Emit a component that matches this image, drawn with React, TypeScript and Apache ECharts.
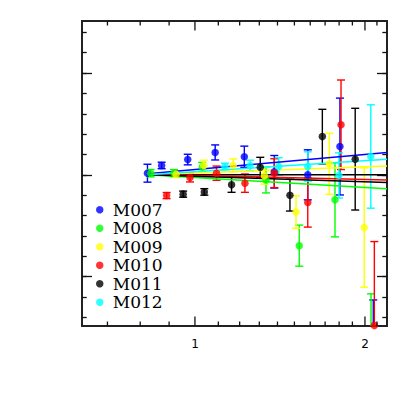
import React, { useEffect, useRef } from "react";
import * as echarts from "echarts";

// ---- data ----
const seriesNames = ["M007", "M008", "M009", "M010", "M011", "M012"];
const seriesColors = ["#0000ff", "#00ff00", "#ffff00", "#ff0000", "#000000", "#00ffff"];

const M007_x = [0.824, 0.873, 0.971, 1.086, 1.223, 1.382, 1.584, 1.806, 2.069];
const M007_y = [1.008, 1.046, 1.075, 1.11, 1.089, 1.015, 1.0, 1.139, 0.22];
const M007_e = [0.044, 0.016, 0.026, 0.037, 0.052, 0.08, 0.123, 0.238, 0.165];

const M008_x = [0.835, 0.918, 1.03, 1.336, 1.53, 1.77, 2.05];
const M008_y = [1.008, 1.008, 1.039, 0.975, 0.652, 0.877, 0.2];
const M008_e = [0.018, 0.018, 0.022, 0.064, 0.101, 0.182, 0.215];

const M009_x = [0.926, 1.037, 1.169, 1.327, 1.51, 1.729, 1.994];
const M009_y = [1.003, 1.046, 1.046, 0.995, 0.817, 1.054, 0.741];
const M009_e = [0.016, 0.026, 0.032, 0.041, 0.08, 0.15, 0.293];

const M010_x = [0.891, 0.98, 1.092, 1.226, 1.382, 1.584, 1.814, 2.078];
const M010_y = [0.898, 0.987, 1.008, 0.959, 1.008, 0.864, 1.246, 0.26];
const M010_e = [0.015, 0.022, 0.035, 0.045, 0.071, 0.121, 0.22, 0.412];

const M011_x = [0.953, 1.039, 1.161, 1.305, 1.473, 1.681, 1.922];
const M011_y = [0.905, 0.916, 0.951, 1.037, 0.9, 1.188, 1.077];
const M011_e = [0.015, 0.016, 0.037, 0.049, 0.078, 0.134, 0.25];

const M012_x = [1.13, 1.252, 1.407, 1.584, 1.799, 2.048];
const M012_y = [1.041, 1.046, 1.041, 1.041, 0.997, 1.09];
const M012_e = [0.016, 0.026, 0.043, 0.072, 0.111, 0.254];

// fitted lines: value at start and at end of the x range
const fitX = [0.824, 2.188];
const fitStart = [1.005, 1.0, 1.0, 1.003, 1.0, 1.0];
const fitEnd = [1.11, 0.931, 1.043, 0.975, 0.962, 1.076];
const refLine = [1.0, 1.0];

// axes
const xMin = 0.631;
const xMax = 2.188;
const yMin = 0.257;
const yMax = 1.756;
const xTicks = [0.7, 0.8, 0.9, 1, 1.1, 1.2, 1.3, 1.4, 1.5, 1.6, 1.7, 1.8, 1.9, 2, 2.1];
const xMajorTicks = [1, 2];
const xTickLabels = [1, 2];
const yMinorTicks = [0.3, 0.4, 0.5, 0.6, 0.7, 0.8, 0.9, 1.0, 1.1, 1.2, 1.3, 1.4, 1.5, 1.6, 1.7];
const yMajorTicks = [0.5, 1.0, 1.5];

const allX = [M007_x, M008_x, M009_x, M010_x, M011_x, M012_x];
const allY = [M007_y, M008_y, M009_y, M010_y, M011_y, M012_y];
const allE = [M007_e, M008_e, M009_e, M010_e, M011_e, M012_e];

export default function App() {
  const ref = useRef<HTMLDivElement>(null);
  useEffect(() => {
    if (!ref.current) return;
    const chart = echarts.init(ref.current, undefined, { renderer: "svg" });

    const tickAxisY = (position: string, ticks: number[], len: number) => ({
      type: "value",
      position,
      min: yMin,
      max: yMax,
      axisLine: { show: true, onZero: false, lineStyle: { color: "#222", width: 2 } },
      splitLine: { show: false },
      axisLabel: { show: false },
      axisTick: {
        show: true,
        inside: true,
        length: len,
        customValues: ticks,
        lineStyle: { color: "#111", width: 1.3 },
      },
    });

    const series: any[] = [];
    // x tick marks as thin filled rects at bottom and top of the plot, through the log axis
    series.push({
      name: "xTickMarks",
      type: "custom",
      xAxisIndex: 0,
      yAxisIndex: 0,
      z: 20,
      encode: { x: 0, y: 1 },
      data: xTicks.map((v) => [v, 1.0, xMajorTicks.indexOf(v) >= 0 ? 9.5 : 4.5]),
      renderItem: (params: any, api: any) => {
        const p = api.coord([api.value(0), api.value(1)]);
        const len = api.value(2);
        const cs = params.coordSys;
        const fill = { fill: "#111" };
        return {
          type: "group",
          children: [
            { type: "rect", shape: { x: p[0] - 0.65, y: cs.y + cs.height - len, width: 1.3, height: len }, style: fill },
            { type: "rect", shape: { x: p[0] - 0.65, y: cs.y, width: 1.3, height: len }, style: fill },
          ],
        };
      },
    });
    // error bars
    seriesNames.forEach((name, i) => {
      series.push({
        name: name + " err",
        type: "custom",
        xAxisIndex: 0,
        yAxisIndex: 0,
        z: 3,
        encode: { x: 0, y: 1 },
        data: allX[i].map((x, j) => [x, allY[i][j], allE[i][j]]),
        renderItem: (params: any, api: any) => {
          const x = api.value(0);
          const y = api.value(1);
          const e = api.value(2);
          const top = api.coord([x, y + e]);
          const bot = api.coord([x, y - e]);
          const cs = params.coordSys;
          const ya = cs.y;
          const yb = cs.y + cs.height;
          const t = Math.max(top[1], ya);
          const b = Math.min(bot[1], yb);
          const children: any[] = [];
          const st = { stroke: seriesColors[i], lineWidth: 1.4 };
          if (t < b) {
            children.push({ type: "line", shape: { x1: top[0], y1: t, x2: top[0], y2: b }, style: st });
          }
          if (top[1] >= ya && top[1] <= yb) {
            children.push({ type: "line", shape: { x1: top[0] - 4, y1: top[1], x2: top[0] + 4, y2: top[1] }, style: st });
          }
          if (bot[1] >= ya && bot[1] <= yb) {
            children.push({ type: "line", shape: { x1: bot[0] - 4, y1: bot[1], x2: bot[0] + 4, y2: bot[1] }, style: st });
          }
          return { type: "group", children };
        },
      });
    });
    // fit lines
    series.push({
      name: "ref",
      type: "line",
      xAxisIndex: 0,
      yAxisIndex: 0,
      z: 4,
      showSymbol: false,
      symbol: "none",
      data: fitX.map((x, j) => [x, refLine[j]]),
      lineStyle: { color: "#000", width: 1.5 },
    });
    seriesNames.forEach((name, i) => {
      series.push({
        name: name + " fit",
        type: "line",
        xAxisIndex: 0,
        yAxisIndex: 0,
        z: 4,
        showSymbol: false,
        symbol: "none",
        data: [
          [fitX[0], fitStart[i]],
          [fitX[1], fitEnd[i]],
        ],
        lineStyle: { color: seriesColors[i], width: 1.5 },
      });
    });
    // points
    seriesNames.forEach((name, i) => {
      series.push({
        name,
        type: "scatter",
        xAxisIndex: 0,
        yAxisIndex: 0,
        z: 5,
        symbol: "circle",
        symbolSize: 7.5,
        clip: true,
        data: allX[i].map((x, j) => [x, allY[i][j]]),
        itemStyle: { color: seriesColors[i] },
      });
    });

    chart.setOption({
      animation: false,
      grid: { left: 82, right: 22, top: 21, bottom: 83 },
      legend: {
        data: seriesNames,
        orient: "vertical",
        left: 96,
        top: 200.5,
        icon: "circle",
        itemWidth: 16,
        itemHeight: 7.5,
        itemGap: 0,
        padding: 0,
        selectedMode: false,
        textStyle: {
          fontFamily: "DejaVu Serif",
          fontSize: 17,
          color: "#000",
          lineHeight: 18.5,
        },
      },
      xAxis: [
        {
          type: "log",
          position: "bottom",
          min: xMin,
          max: xMax,
          axisLine: { show: true, onZero: false, lineStyle: { color: "#222", width: 2 } },
          axisTick: { show: false },
          axisLabel: {
            show: true,
            customValues: xTickLabels,
            fontFamily: "DejaVu Sans",
            fontSize: 12,
            color: "#000",
            margin: 12,
          },
          splitLine: { show: false },
        },
        {
          type: "log",
          position: "top",
          min: xMin,
          max: xMax,
          axisLine: { show: true, onZero: false, lineStyle: { color: "#222", width: 2 } },
          axisTick: { show: false },
          axisLabel: { show: false },
          splitLine: { show: false },
        },
      ],
      yAxis: [
        tickAxisY("left", yMinorTicks, 4.7),
        tickAxisY("left", yMajorTicks, 10),
        tickAxisY("right", yMinorTicks, 4.7),
        tickAxisY("right", yMajorTicks, 10),
      ],
      series,
    });

    return () => chart.dispose();
  }, []);
  return (
    <div
      ref={ref}
      style={{ position: "fixed", left: 0, top: 0, width: 409, height: 409, background: "#fff" }}
    />
  );
}
